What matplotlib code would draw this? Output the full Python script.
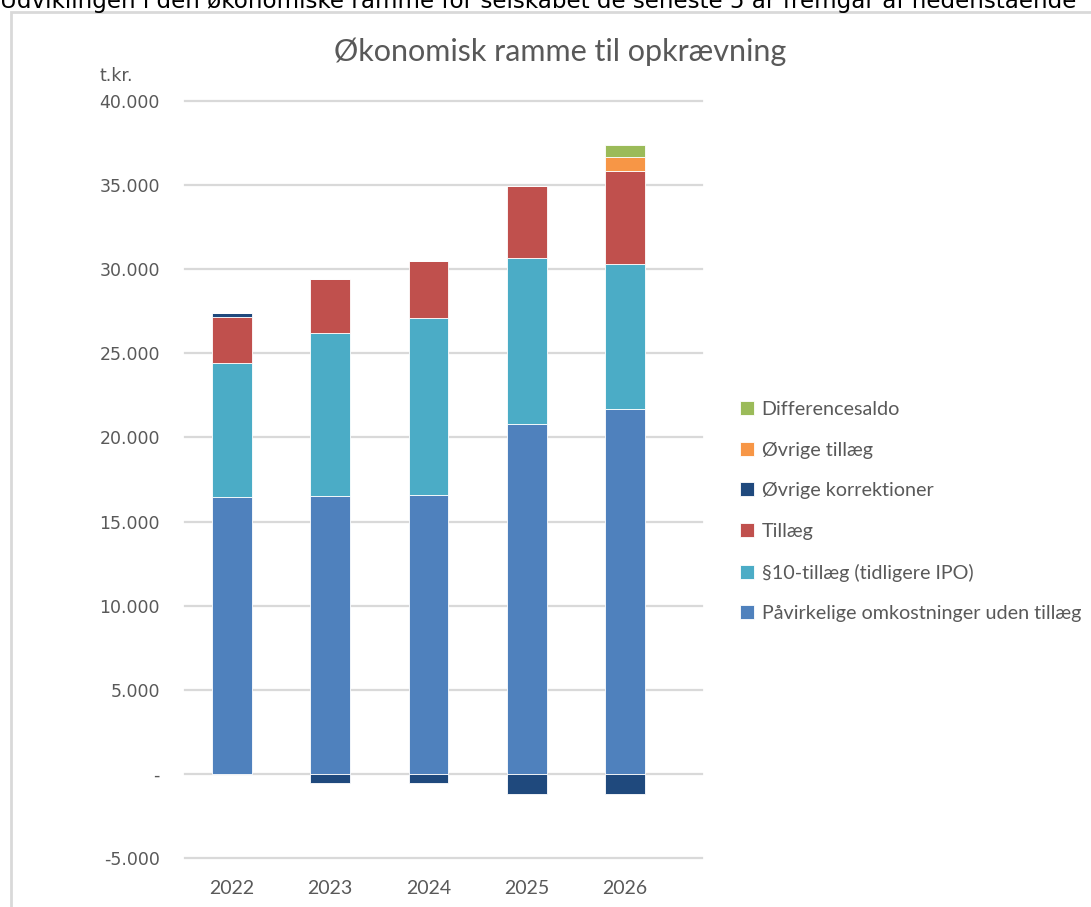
import numpy as np
import matplotlib
matplotlib.use("Agg")
import matplotlib.pyplot as plt
from matplotlib.patches import Rectangle

# data (t.kr.)
years = ['2022', '2023', '2024', '2025', '2026']
paavirkelige = [16450, 16520, 16580, 20770, 21680]
tillaeg_10 = [7950, 9680, 10500, 9880, 8620]
tillaeg = [2740, 3210, 3420, 4310, 5550]
ovr_korrektioner = [240, -540, -540, -1210, -1210]
ovr_tillaeg = [0, 0, 0, 0, 820]
differencesaldo = [0, 0, 0, 0, 710]

series_names = ['Påvirkelige omkostninger uden tillæg', '§10-tillæg (tidligere IPO)', 'Tillæg',
                'Øvrige korrektioner', 'Øvrige tillæg', 'Differencesaldo']
colors = ['#4F81BD', '#4BACC6', '#C0504D', '#1F497D', '#F79646', '#9BBB59']
yticks = [-5000, 0, 5000, 10000, 15000, 20000, 25000, 30000, 35000, 40000]
ytick_labels = ['-5.000', '-', '5.000', '10.000', '15.000', '20.000', '25.000', '30.000', '35.000', '40.000']

txt = '#595959'
fig = plt.figure(figsize=(10.91, 9.07), dpi=100)

# ramme om diagrammet + afskaaret tekstlinje ovenover
fig.add_artist(Rectangle((11 / 1091, -0.1), 1.2, 1 - 12 / 907 + 0.1, transform=fig.transFigure,
                         fill=False, edgecolor='#d9d9d9', linewidth=2))
fig.text(0.0, 1 - 8 / 907, 'Udviklingen i den økonomiske ramme for selskabet de seneste 5 år fremgår af nedenstående',
         fontsize=16.6, family='DejaVu Sans', color='black', va='baseline', ha='left')

ax = fig.add_axes([185 / 1091, 1 - 858 / 907, 517 / 1091, 757 / 907])
x = np.arange(len(years))
pos_base = np.zeros(len(years))
neg_base = np.zeros(len(years))
data = [paavirkelige, tillaeg_10, tillaeg, ovr_korrektioner, ovr_tillaeg, differencesaldo]
handles = []
for vals, name, c in zip(data, series_names, colors):
    vals = np.array(vals, dtype=float)
    base = np.where(vals >= 0, pos_base, neg_base)
    b = ax.bar(x, vals, 0.405, bottom=base, color=c, edgecolor='white', linewidth=0.6, label=name, zorder=3)
    handles.append(b)
    pos_base = pos_base + np.where(vals > 0, vals, 0)
    neg_base = neg_base + np.where(vals < 0, vals, 0)

for y in yticks:
    ax.axhline(y, color='#d9d9d9', linewidth=1.6, zorder=1, clip_on=False)

ax.set_xlim(-0.478, 4.783)
ax.set_ylim(-5000, 40000)
ax.set_yticks(yticks)
ax.set_yticklabels(ytick_labels, family='DejaVu Sans', fontsize=12.5, color=txt)
ax.set_xticks(x)
ax.set_xticklabels(years, family='Lato', fontsize=14, color=txt)
ax.tick_params(length=0)
ax.tick_params(axis='y', pad=18)
ax.tick_params(axis='x', pad=16)
for s in ax.spines.values():
    s.set_visible(False)

fig.text(100 / 1091, 1 - 76 / 907, 't.kr.', family='DejaVu Sans', fontsize=12.5, color=txt, va='center')
fig.text(560 / 1091, 1 - 52 / 907, 'Økonomisk ramme til opkrævning', family='Lato', fontsize=22,
         color=txt, ha='center', va='center')

leg = fig.legend(handles[::-1], series_names[::-1], loc='upper left', bbox_to_anchor=(732 / 1091, 1 - 393 / 907),
                 frameon=False, prop={'family': 'Lato', 'size': 14.2}, labelcolor=txt,
                 handlelength=0.7, handleheight=0.7, handletextpad=0.4, labelspacing=1.2, borderaxespad=0)

fig.savefig('out.png', dpi=100)
